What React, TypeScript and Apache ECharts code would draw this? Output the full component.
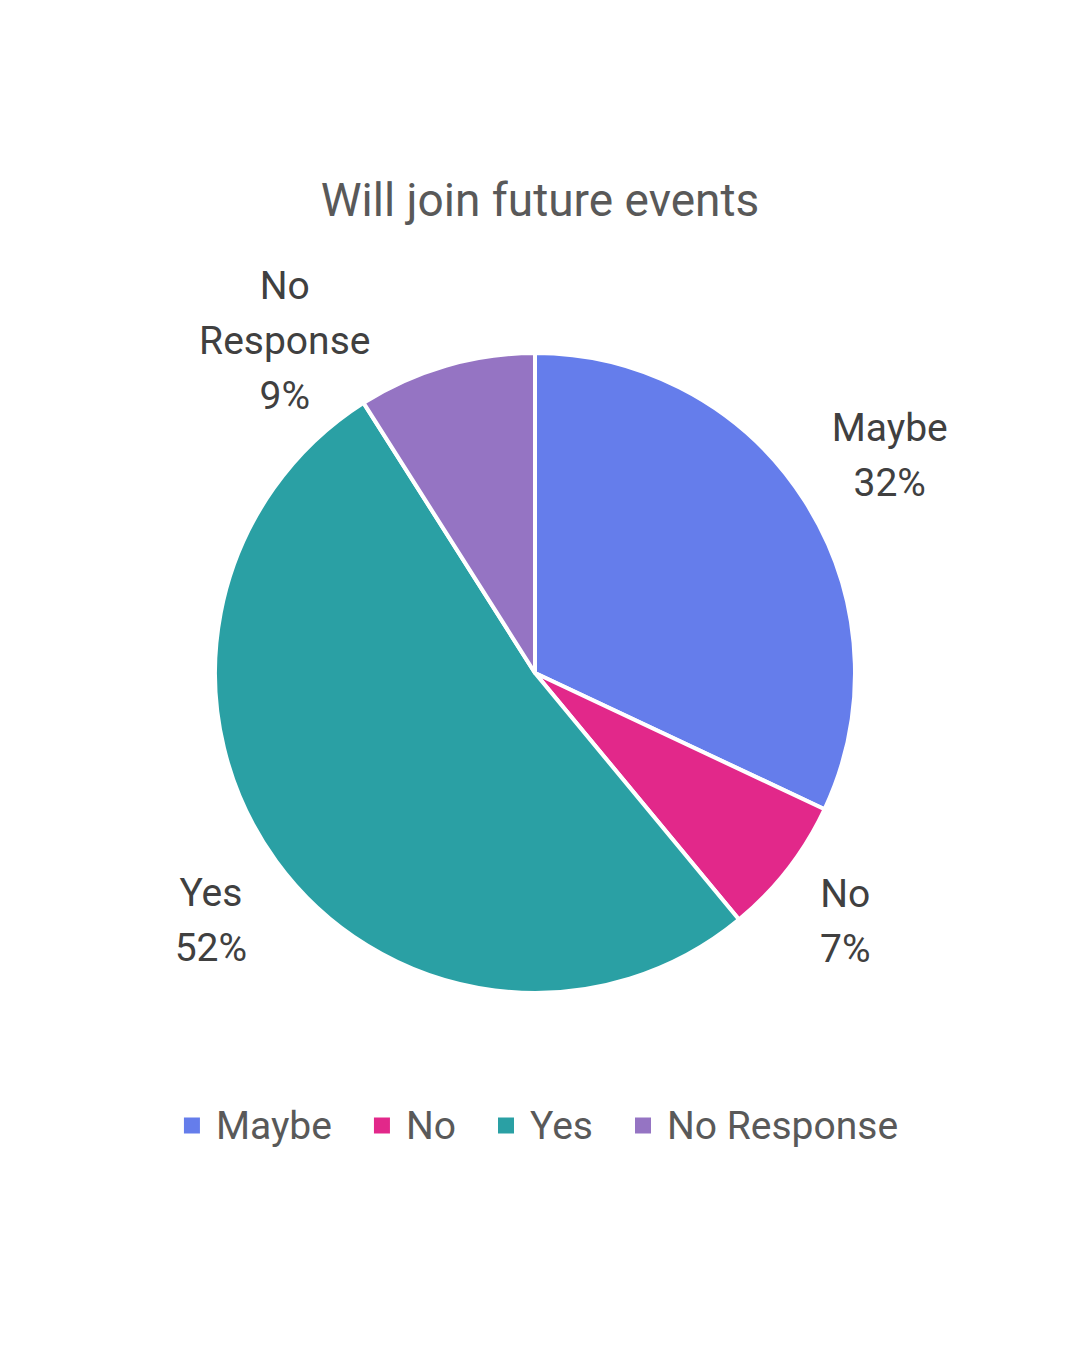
import React, { useEffect, useRef } from "react";
import * as echarts from "echarts";

const categories = ["Maybe", "No", "Yes", "No Response"];
const values = [32, 7, 52, 9];
const colors = ["#657DEB", "#E2288A", "#2AA0A4", "#9574C3"];
const labelTexts = ["Maybe\n32%", "No\n7%", "Yes\n52%", "No\nResponse\n9%"];
const titleText = "Will join future events";

export default function App() {
  const ref = useRef<HTMLDivElement>(null);
  useEffect(() => {
    document.body.style.margin = "0";
    const chart = echarts.init(ref.current!, null, { renderer: "svg" });
    const data = categories.map((name, i) => ({
      name,
      value: values[i],
      itemStyle: { color: colors[i] },
    }));
    const font = "Roboto, 'Noto Sans', sans-serif";
    const nudges = [
      { dx: 6, dy: 4 },
      { dx: -16, dy: -5 },
      { dx: 10, dy: 5 },
      { dx: -135, dy: 65 },
    ];
    chart.setOption({
      animation: false,
      backgroundColor: "#ffffff",
      title: {
        text: titleText,
        left: "center",
        top: 172,
        textStyle: { fontSize: 46, fontWeight: "normal", color: "#595959", fontFamily: font },
      },
      legend: {
        data: categories,
        bottom: 200,
        left: "center",
        icon: "rect",
        itemWidth: 18,
        itemHeight: 18,
        itemGap: 40,
        textStyle: { fontSize: 39, color: "#595959", fontFamily: font, padding: [0, 0, 0, 10] },
      },
      series: [
        {
          type: "pie",
          center: [535, 673],
          radius: [0, 320],
          startAngle: 90,
          clockwise: true,
          data,
          itemStyle: { borderColor: "#ffffff", borderWidth: 4 },
          label: { show: false },
          labelLine: { show: false },
          z: 2,
        },
        {
          type: "pie",
          center: [535, 673],
          radius: [0, 820],
          startAngle: 90,
          clockwise: true,
          silent: true,
          data: categories.map((name, i) => ({
            name,
            value: values[i],
            itemStyle: { color: "rgba(0,0,0,0)", borderWidth: 0 },
            label: { formatter: labelTexts[i] },
          })),
          label: {
            show: true,
            position: "inner",
            fontSize: 39,
            lineHeight: 55,
            color: "#404040",
            fontFamily: font,
            align: "center",
          },
          labelLine: { show: false },
          labelLayout: (params: any) => nudges[params.dataIndex] || {},
          z: 1,
        },
      ],
    });
    return () => chart.dispose();
  }, []);
  return <div ref={ref} style={{ width: 1080, height: 1350 }} />;
}
